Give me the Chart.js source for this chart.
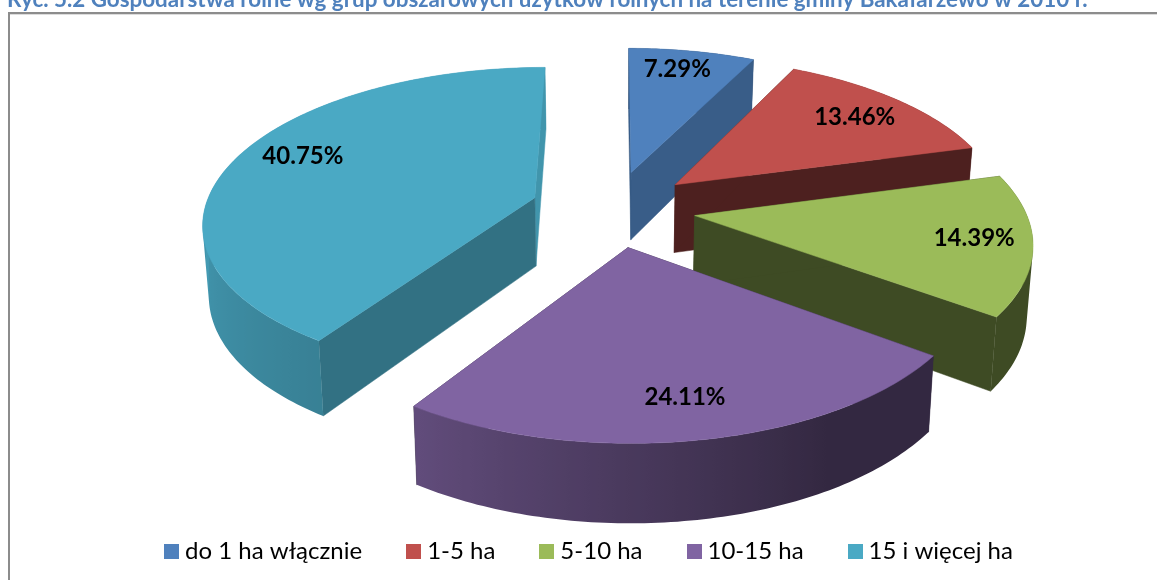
<!DOCTYPE html>
<html><head><meta charset="utf-8">
<style>html,body{margin:0;padding:0;background:#fff;overflow:hidden}canvas{display:block}</style>
<script src="https://cdn.jsdelivr.net/npm/chart.js@4/dist/chart.umd.min.js"></script>
</head><body><canvas id="c" width="1157" height="580"></canvas>
<script>
const categories = ["do 1 ha włącznie","1-5 ha","5-10 ha","10-15 ha","15 i więcej ha"];
const shares = [7.29,13.46,14.39,24.11,40.75];
const colors = ["#4f81bd","#c0504d","#9bbb59","#8064a2","#4aa9c4"];
const titleText = "Ryc. 5.2 Gospodarstwa rolne wg grup obszarowych użytków rolnych na terenie gminy Bakałarzewo w 2010 r.";
const startWallShade = [0.7,0.4,0.4,0.4,0.67];
const endWallShade = [0.72,0.4,0.4,0.4,0.88];
const paintOrder = [0,4,1,2,3];
const labelShift = [-1.5,0,-1,0,5];
const labelRadius = [0.84,0.795,0.83,0.80,0.81];

const V = {cx:613, cy:208.5, f:330, g:153, k:0.151, e:0.25, d:69, kd:0.11, shrink:0.985};
function project(X,Y,bottom){
  const w = 1+V.k*Y;
  let x = V.cx+V.f*X/w, y = V.cy-V.g*Y/w;
  if(bottom){ x = V.cx+(x-V.cx)*V.shrink; y += V.d/(1+V.kd*Y); }
  return [x,y];
}
function hexRgb(h){return [1,3,5].map(i=>parseInt(h.slice(i,i+2),16));}
function shade(h,s){return 'rgb('+hexRgb(h).map(v=>Math.round(v*s)).join(',')+')';}
function rimShade(t){
  const deg=t*180/Math.PI;
  if(deg<=150) return 0.4;
  if(deg<=213) return 0.4+(deg-150)/63*0.36;
  if(deg<=270) return 0.76+(deg-213)/57*0.16;
  return 0.92;
}
function poly(ctx,pts,fill,edge,lw){
  ctx.beginPath();
  pts.forEach((p,i)=>i?ctx.lineTo(p[0],p[1]):ctx.moveTo(p[0],p[1]));
  ctx.closePath();
  ctx.fillStyle=fill; ctx.fill();
  if(edge){ctx.strokeStyle=edge; ctx.lineWidth=lw||0.5; ctx.lineJoin='round'; ctx.stroke();}
}
function area(q){let s=0;q.forEach((p,i)=>{const r=q[(i+1)%q.length];s+=p[0]*r[1]-r[0]*p[1];});return s;}
// Rim part between two angles: equally wound quads in one path with one horizontal gradient,
// so neither seams nor folds appear.
function rimBand(ctx,col,rim,a,b){
  if(b<=a) return;
  const n=Math.max(8,Math.ceil((b-a)*60));
  const upper=[],lower=[],samples=[];
  for(let j=0;j<=n;j++){
    const t=a+(b-a)*j/n, P=rim(t);
    upper.push(project(P[0],P[1]));
    lower.push(project(P[0],P[1],true));
    samples.push([upper[j][0],rimShade(t)]);
  }
  const xs=samples.map(s=>s[0]), lo=Math.min(...xs), hi=Math.max(...xs);
  const g=ctx.createLinearGradient(lo,0,hi,0);
  samples.slice().sort((p,q)=>p[0]-q[0]).forEach(s=>g.addColorStop(hi>lo?(s[0]-lo)/(hi-lo):0,shade(col,s[1])));
  ctx.beginPath();
  for(let j=0;j<n;j++){
    let q=[upper[j],upper[j+1],lower[j+1],lower[j]];
    if(area(q)<0) q=q.reverse();
    q.forEach((p,i)=>i?ctx.lineTo(p[0],p[1]):ctx.moveTo(p[0],p[1]));
    ctx.closePath();
  }
  ctx.fillStyle=g; ctx.fill('nonzero');
}
function swatch(color){
  const s=document.createElement('canvas');
  s.width=15; s.height=15;
  const c=s.getContext('2d');
  c.fillStyle=color; c.fillRect(0,0,15,15);
  return s;
}
const tilted = {
  id:'tilted',
  beforeDraw(chart){
    const c=chart.ctx;
    c.save();
    c.fillStyle='#8c8c8c';
    c.fillRect(8,12,2,568);
    c.fillRect(8,12,1149,2);
    c.fillStyle='#dcdcdc';
    c.fillRect(10,14,1147,1);
    c.restore();
  },
  beforeDatasetDraw(chart,args){
    const ctx=chart.ctx, arcs=args.meta.data;
    ctx.save();
    paintOrder.forEach(i=>{
      const a=arcs[i], col=colors[i];
      const t0=a.startAngle+Math.PI/2, t1=a.endAngle+Math.PI/2, m=(t0+t1)/2;
      const ox=V.e*Math.sin(m), oy=V.e*Math.cos(m);
      const rim=t=>[ox+Math.sin(t),oy+Math.cos(t)];
      const q1=Math.PI/2, q3=Math.PI*1.5;
      // back-facing rim first, then the cut walls, then the front-facing rim, then the top
      rimBand(ctx,col,rim,t0,Math.min(t1,q1));
      rimBand(ctx,col,rim,Math.max(t0,q3),t1);
      const S=rim(t0),E=rim(t1);
      const ec=shade(col,endWallShade[i]), sc=shade(col,startWallShade[i]);
      poly(ctx,[project(ox,oy),project(E[0],E[1]),project(E[0],E[1],true),project(ox,oy,true)],ec,ec);
      poly(ctx,[project(ox,oy),project(S[0],S[1]),project(S[0],S[1],true),project(ox,oy,true)],sc,sc);
      rimBand(ctx,col,rim,Math.max(t0,q1),Math.min(t1,q3));
      const n=Math.ceil((t1-t0)*60);
      const top=[project(ox,oy)];
      for(let j=0;j<=n;j++){const p=rim(t0+(t1-t0)*j/n);top.push(project(p[0],p[1]));}
      poly(ctx,top,col,col);
    });
    ctx.font='bold 24px Lato';
    ctx.fillStyle='#000';
    ctx.textAlign='center'; ctx.textBaseline='middle';
    arcs.forEach((a,i)=>{
      const t0=a.startAngle+Math.PI/2, t1=a.endAngle+Math.PI/2, m=(t0+t1)/2;
      const l=m+labelShift[i]*Math.PI/180, r=labelRadius[i];
      const p=project(V.e*Math.sin(m)+r*Math.sin(l),V.e*Math.cos(m)+r*Math.cos(l));
      ctx.fillText(shares[i].toFixed(2)+'%',p[0],p[1]+1);
    });
    ctx.restore();
    return false;
  }
};
new Chart(document.getElementById('c'),{
  type:'pie',
  data:{labels:categories,datasets:[{data:shares,backgroundColor:colors,borderWidth:0}]},
  plugins:[tilted],
  options:{
    responsive:false,animation:false,
    layout:{padding:{left:7,right:-19,bottom:7}},
    plugins:{
      tooltip:{enabled:false},
      title:{display:true,text:titleText,align:'start',color:'#4f81bd',font:{family:'Lato',size:22.4,weight:'bold'},padding:{top:-14,bottom:0}},
      legend:{position:'bottom',labels:{
        font:{family:'Lato',size:24},color:'#111111',usePointStyle:true,pointStyleWidth:3,boxHeight:15,padding:50,
        generateLabels(chart){
          return categories.map((t,i)=>({text:t,fillStyle:colors[i],strokeStyle:colors[i],lineWidth:0,pointStyle:swatch(colors[i]),hidden:false,index:i}));
        }
      }}
    }
  }
});
</script></body></html>
